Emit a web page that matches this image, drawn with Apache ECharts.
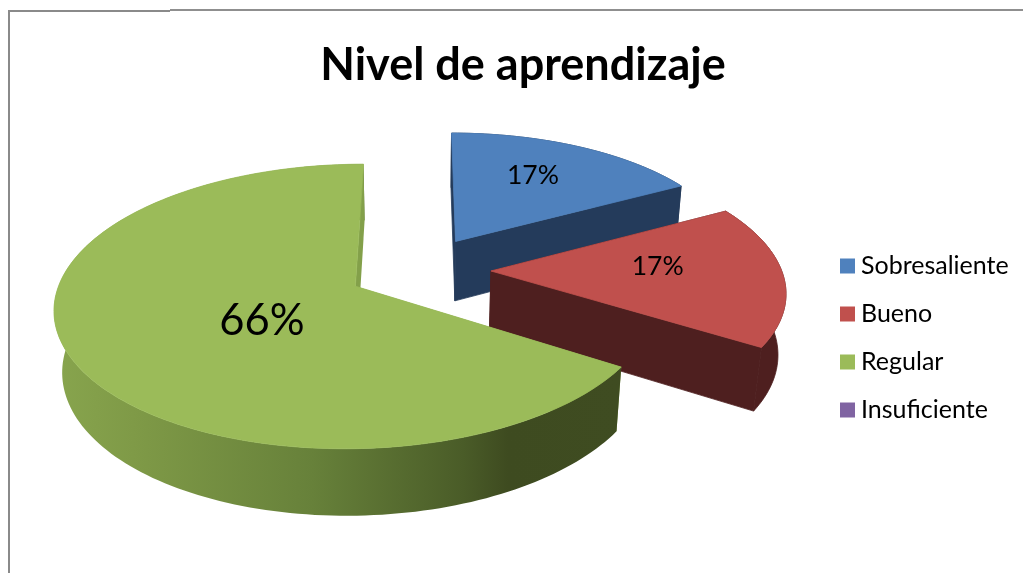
<!DOCTYPE html>
<html><head><meta charset="utf-8">
<style>html,body{margin:0;padding:0;background:#fff}#c{width:1023px;height:573px}</style>
<script src="https://cdn.jsdelivr.net/npm/echarts@6/dist/echarts.min.js"></script>
</head><body><div id="c"></div>
<script>
const chartTitle = 'Nivel de aprendizaje';
const categories = ['Sobresaliente', 'Bueno', 'Regular', 'Insuficiente'];
const values = [17, 17, 66, 0];
const topColors = ['#4f81bd', '#c0504d', '#9bbb59', '#8064a2'];
const wallColors = ['#243b5b', '#4e1f1f', '#83a04a', '#4d3c62'];
const labelFonts = [26.5, 26.5, 43.5, 26];
const labelRadius = [0.58, 0.56, 0.34, 0.5];
const labelShift = [-7, -7, 11, 0];
const FONT = 'Lato, Carlito, sans-serif';

// perspective camera of the pie plane, and per-slice fit of the tilted 3D look
const cam = {cx: 421, cy: 272, A: 297, B: 135.4, k: 0.14, H: 62, q: 0.022, explode: 0.236};
const radiusU = [0.96, 0.98, 0.985, 1];
const radiusV = [0.965, 0.98, 1, 1];
const nudgeU = [0, 0, -0.011, 0];
const nudgeV = [-0.03, -0.015, -0.01, 0];
function project(u, v, z) {
  const w = 1 - cam.k * v + cam.q * z;
  return [cam.cx + cam.A * u / w, cam.cy + (cam.B * v + cam.H * z) / w];
}
const total = values.reduce((a, b) => a + b, 0);
function sliceAngles(i) {
  let s = 0;
  for (let j = 0; j < i; j++) s += values[j];
  return [s / total * 2 * Math.PI, (s + values[i]) / total * 2 * Math.PI];
}
function renderSlice(params, api) {
  const i = params.seriesIndex;
  const val = api.value(0);
  if (!val) return null;
  const [a0, a1] = sliceAngles(i);
  const mid = (a0 + a1) / 2;
  const ox = cam.explode * Math.sin(mid) + nudgeU[i], oy = -cam.explode * Math.cos(mid) + nudgeV[i];
  const steps = Math.max(12, Math.round((a1 - a0) * 40));
  const top = [], bot = [];
  for (let n = 0; n <= steps; n++) {
    const t = a0 + (a1 - a0) * n / steps;
    const u = ox + radiusU[i] * Math.sin(t), v = oy - radiusV[i] * Math.cos(t);
    top.push(project(u, v, 0));
    bot.push(project(u, v, 1));
  }
  const apexT = project(ox, oy, 0), apexB = project(ox, oy, 1);
  const side = i === 2
    ? new echarts.graphic.LinearGradient(60, 0, 620, 0, [
        {offset: 0, color: '#87a44d'},
        {offset: 0.13, color: '#7f9a47'},
        {offset: 0.45, color: '#67813a'},
        {offset: 0.72, color: '#4a5c28'},
        {offset: 0.8, color: '#3e4b20'},
        {offset: 1, color: '#3f4c21'}
      ], true)
    : wallColors[i];
  const poly = (points, fill, stroke) => ({type: 'polygon', shape: {points},
    style: {fill, stroke: stroke || null, lineWidth: stroke ? 0.8 : 0}});
  const lr = labelRadius[i];
  const lp = project(ox + lr * Math.sin(mid), oy - lr * Math.cos(mid), 0);
  const edgeStroke = i === 2 ? null : wallColors[i];
  return {type: 'group', children: [
    poly([apexT, top[0], bot[0], apexB], wallColors[i], edgeStroke),
    poly(top.concat(bot.slice().reverse()), side, edgeStroke),
    poly([apexT, top[steps], bot[steps], apexB], wallColors[i], edgeStroke),
    poly([apexT].concat(top), topColors[i], topColors[i]),
    {type: 'text', style: {
      text: val + '%', x: lp[0], y: lp[1] + labelShift[i], align: 'center', verticalAlign: 'middle',
      fontFamily: FONT, fontSize: labelFonts[i], fill: '#000'
    }}
  ]};
}
const chart = echarts.init(document.getElementById('c'), null, {renderer: 'canvas'});
chart.setOption({
  animation: false,
  backgroundColor: '#fff',
  color: topColors,
  title: {text: chartTitle, left: 518, top: 33, textAlign: 'center',
    textStyle: {fontFamily: FONT, fontWeight: 'bold', fontSize: 45, color: '#000', lineHeight: 54}},
  legend: {orient: 'vertical', left: 835, top: 248, icon: 'rect', itemWidth: 15, itemHeight: 15, itemGap: 22,
    data: categories, selectedMode: false,
    textStyle: {fontFamily: FONT, fontSize: 25, color: '#000', lineHeight: 26, padding: [0, 0, 0, 1]}},
  graphic: [
    {type: 'line', shape: {x1: 9, y1: 11, x2: 170, y2: 11}, style: {stroke: '#8a8a8a', lineWidth: 2}},
    {type: 'line', shape: {x1: 170, y1: 10, x2: 1023, y2: 10}, style: {stroke: '#8f8f8f', lineWidth: 2}},
    {type: 'line', shape: {x1: 9, y1: 10, x2: 9, y2: 573}, style: {stroke: '#8a8a8a', lineWidth: 2}}
  ],
  series: categories.map((name, i) => ({
    type: 'custom', name, coordinateSystem: 'none', silent: true,
    renderItem: renderSlice, data: [[values[i]]]
  }))
});
</script></body></html>
